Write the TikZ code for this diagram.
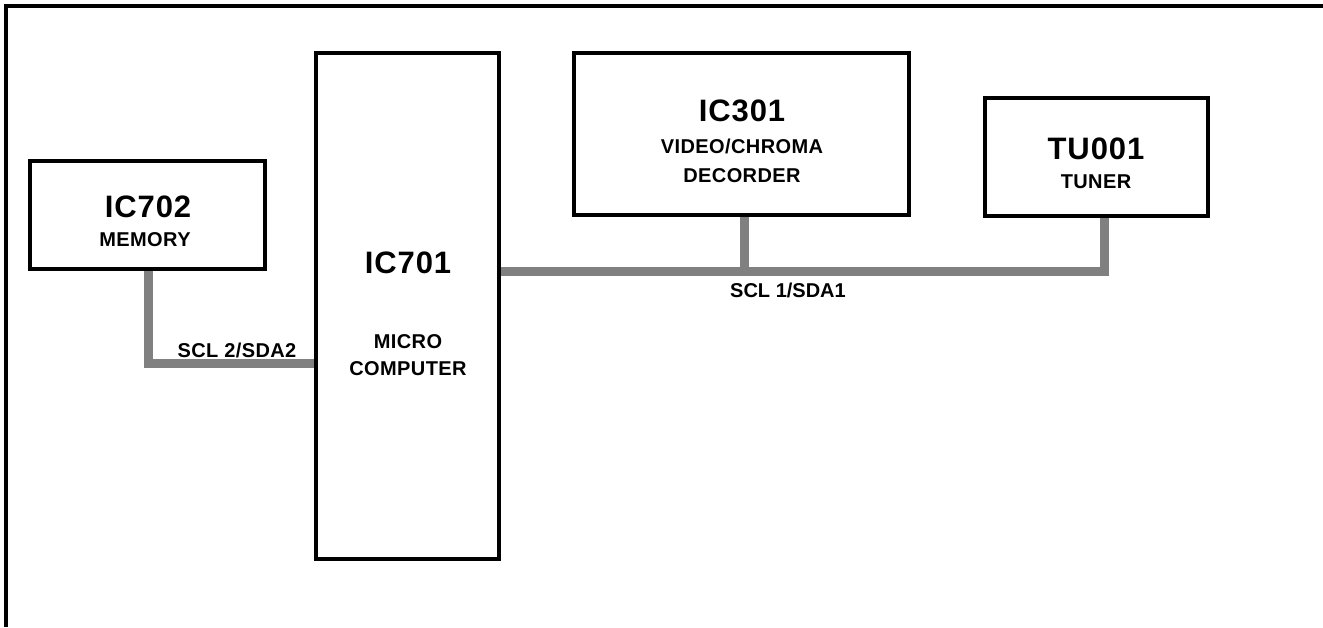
\documentclass[tikz,border=0pt]{standalone}
\usepackage{fontspec}
\setmainfont{Liberation Sans}
\newfontfamily\bigfont{Liberation Sans}[LetterSpace=3]
\newfontfamily\smallfont{Liberation Sans}[LetterSpace=2]
\definecolor{busgray}{HTML}{808080}
\pgfdeclarelayer{background}
\pgfsetlayers{background,main}
\tikzset{
  box/.style={draw, line width=3.2pt, fill=white, inner sep=0pt, rectangle},
  bus/.style={draw=busgray, line width=9pt, line join=miter},
  frame/.style={draw, line width=3.2pt, line join=miter},
  big/.style={font=\bigfont\fontsize{31}{31}\selectfont\bfseries, anchor=base, inner sep=0pt},
  small/.style={font=\smallfont\fontsize{20}{20}\selectfont\bfseries, anchor=base, inner sep=0pt},
  buslbl/.style={font=\fontsize{20}{20}\selectfont\bfseries, anchor=base, inner sep=0pt}
}
\begin{document}
\begin{tikzpicture}[x=1pt,y=-1pt]
\useasboundingbox (0,0) rectangle (1323,627);
% outer frame (cut off at right and bottom)
\coordinate (fbl) at (6,627);
\coordinate (ftl) at (6,6);
\coordinate (ftr) at (1323,6);
\draw[frame] (fbl) -- (ftl) -- (ftr);

% boxes
\node[box, minimum width=235pt, minimum height=108pt] (ic702) at (147.5,215) {};
\node[box, minimum width=183pt, minimum height=506pt] (ic701) at (407.5,306) {};
\node[box, minimum width=335pt, minimum height=162pt] (ic301) at (741.5,134) {};
\node[box, minimum width=223pt, minimum height=118pt] (tu001) at (1096.5,157) {};

% connectors
\coordinate (b2) at (148,363);
\coordinate (b1) at (1104,271.5);
\coordinate (t1) at (744,271.5);
\begin{pgfonlayer}{background}
\draw[bus] (ic702.south -| b2) -- (b2) -- (b2 -| ic701.west);
\draw[bus] (ic701.east |- b1) -- (b1) -- (b1 |- tu001.south);
\draw[bus] (ic301.south -| t1) -- (t1);
\end{pgfonlayer}

% texts
\node[big] (t702a) at (148,217) {IC702};
\node[small] (t702b) at (145,246) {MEMORY};
\node[big] (t701a) at (408,273) {IC701};
\node[small] (t701b) at (408,348) {MICRO};
\node[small] (t701c) at (408,375) {COMPUTER};
\node[big] (t301a) at (742,121) {IC301};
\node[small] (t301b) at (742,153) {VIDEO/CHROMA};
\node[small] (t301c) at (742,182) {DECORDER};
\node[big] (tua) at (1096,159) {TU001};
\node[small] (tub) at (1096,188) {TUNER};
\node[small] (scl2) at (237,357) {SCL 2/SDA2};
\node[buslbl] (scl1) at (788,297) {SCL 1/SDA1};
\end{tikzpicture}
\end{document}
